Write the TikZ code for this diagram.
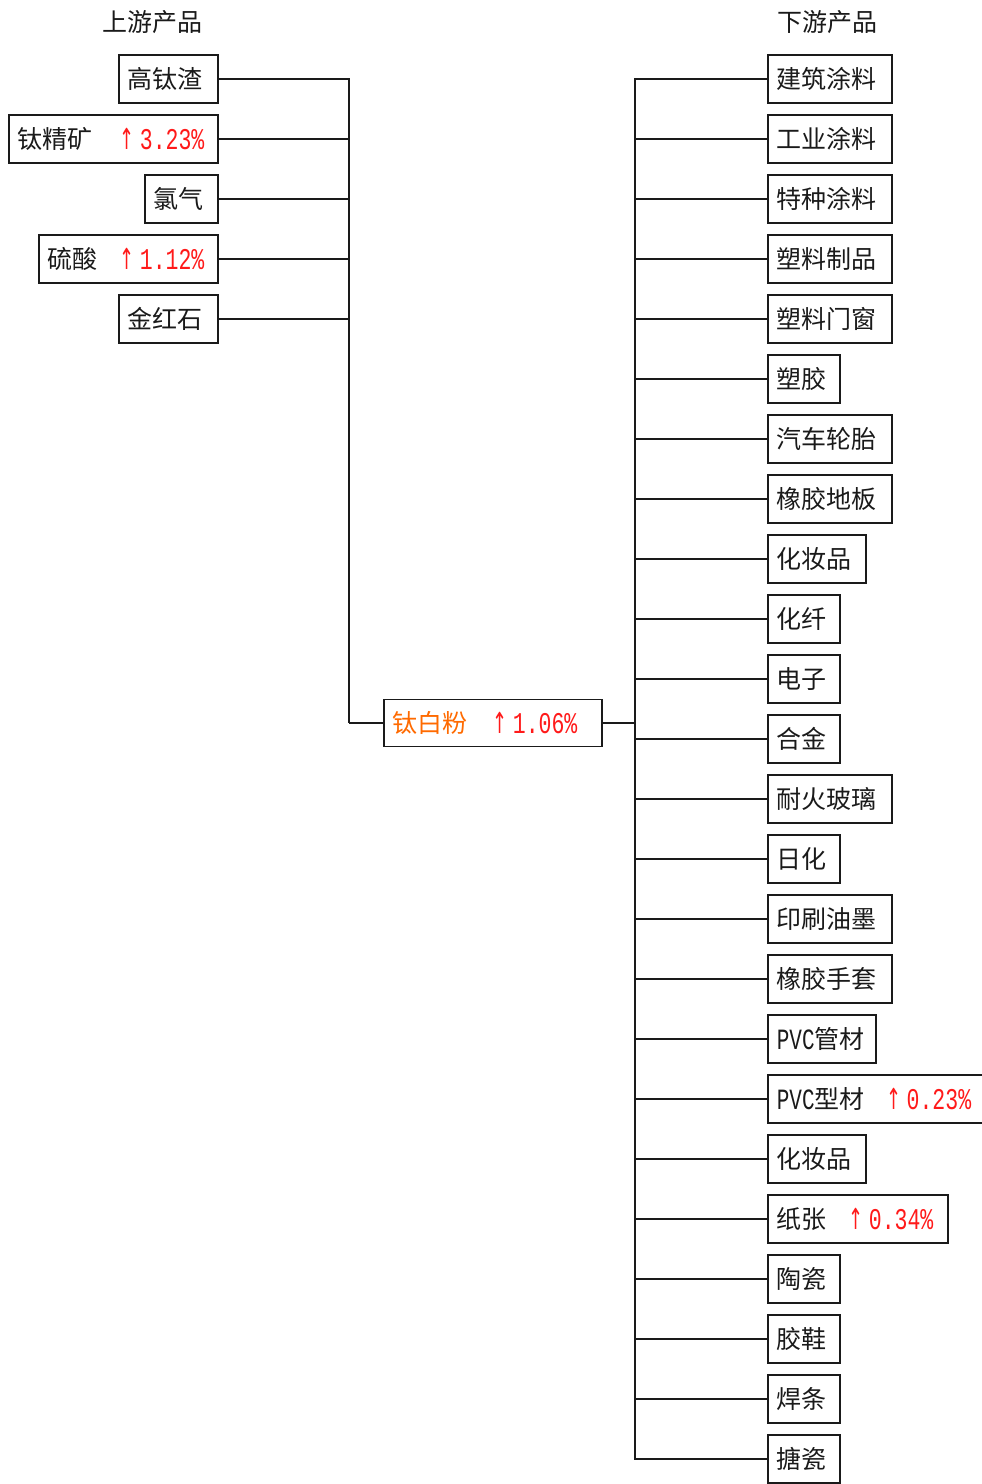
\documentclass[tikz,border=0pt]{standalone}
\usepackage{graphicx}
\usepackage{fontspec}
\newfontfamily\cjk{Noto Sans CJK SC}
\newfontfamily\numf{Liberation Mono}
\newfontfamily\arrf{DejaVu Sans}
\definecolor{upred}{HTML}{FF1A1A}
\definecolor{titan}{HTML}{FF6A00}
\definecolor{ink}{HTML}{1A1A1A}
\newcommand\uprate[2]{\hspace{#1}{\color{upred}\raisebox{-1pt}{\scalebox{0.9}[1.45]{\arrf\fontsize{20}{20}\selectfont ↑}}\hspace{5pt}\raisebox{-1pt}{\scalebox{1}[1.4]{\numf\fontsize{21.5}{21.5}\selectfont #2}}}}
\newcommand\pvc{\raisebox{-1pt}{\scalebox{1}[1.4]{\numf\fontsize{21}{21}\selectfont PVC}}}
\newcommand\lowered[1]{\raisebox{-2.5pt}[0pt][0pt]{#1}}
\begin{document}
\begin{tikzpicture}[x=1pt,y=-1pt,
  box/.style={draw=ink, line width=1.6pt, anchor=west, minimum height=48pt, inner xsep=9pt, inner ysep=0pt,
    font=\cjk\fontsize{25}{25}\selectfont, text=ink, text height=18pt, text depth=4pt},
  link/.style={draw=ink, line width=1.6pt},
  ttl/.style={font=\cjk\fontsize{25}{25}\selectfont, text=ink, inner sep=0pt}]
\useasboundingbox (0,0) rectangle (982,1484);
\newcommand\bx[5]{\node[box] (#1) at (#2,#3) {\makebox[\dimexpr #4pt-18pt\relax][l]{\lowered{#5}}};}
% titles
\node[ttl] (tu) at (152,22) {上游产品};
\node[ttl] (td) at (827,22) {下游产品};
% upstream
\bx{u1}{118}{79}{99}{高钛渣}
\bx{u2}{8}{139}{209}{钛精矿\uprate{27pt}{3.23\%}}
\bx{u3}{144}{199}{73}{氯气}
\bx{u4}{38}{259}{179}{硫酸\uprate{22pt}{1.12\%}}
\bx{u5}{118}{319}{99}{金红石}
% centre
\node[box, minimum height=47pt] (c) at (383,723) {\makebox[200pt][l]{\lowered{\color{titan}钛白粉\uprate{25pt}{1.06\%}}}};
% downstream
\bx{d1}{767}{79}{124}{建筑涂料}
\bx{d2}{767}{139}{124}{工业涂料}
\bx{d3}{767}{199}{124}{特种涂料}
\bx{d4}{767}{259}{124}{塑料制品}
\bx{d5}{767}{319}{124}{塑料门窗}
\bx{d6}{767}{379}{72}{塑胶}
\bx{d7}{767}{439}{124}{汽车轮胎}
\bx{d8}{767}{499}{124}{橡胶地板}
\bx{d9}{767}{559}{98}{化妆品}
\bx{d10}{767}{619}{72}{化纤}
\bx{d11}{767}{679}{72}{电子}
\bx{d12}{767}{739}{72}{合金}
\bx{d13}{767}{799}{124}{耐火玻璃}
\bx{d14}{767}{859}{72}{日化}
\bx{d15}{767}{919}{124}{印刷油墨}
\bx{d16}{767}{979}{124}{橡胶手套}
\bx{d17}{767}{1039}{108}{\pvc 管材}
\bx{d18}{767}{1099}{215}{\pvc 型材\uprate{22pt}{0.23\%}}
\bx{d19}{767}{1159}{98}{化妆品}
\bx{d20}{767}{1219}{180}{纸张\uprate{22pt}{0.34\%}}
\bx{d21}{767}{1279}{72}{陶瓷}
\bx{d22}{767}{1339}{72}{胶鞋}
\bx{d23}{767}{1399}{72}{焊条}
\bx{d24}{767}{1459}{72}{搪瓷}
% junctions
\coordinate (jl) at (349,723);
\coordinate (jr) at (635,723);
\foreach \i in {1,...,5} {\draw[link] (u\i.east) -| (jl);}
\draw[link] (jl) -- (c.west);
\draw[link] (c.east) -- (jr);
\foreach \i in {1,...,24} {\draw[link] (jr) |- (d\i.west);}
\end{tikzpicture}
\end{document}
